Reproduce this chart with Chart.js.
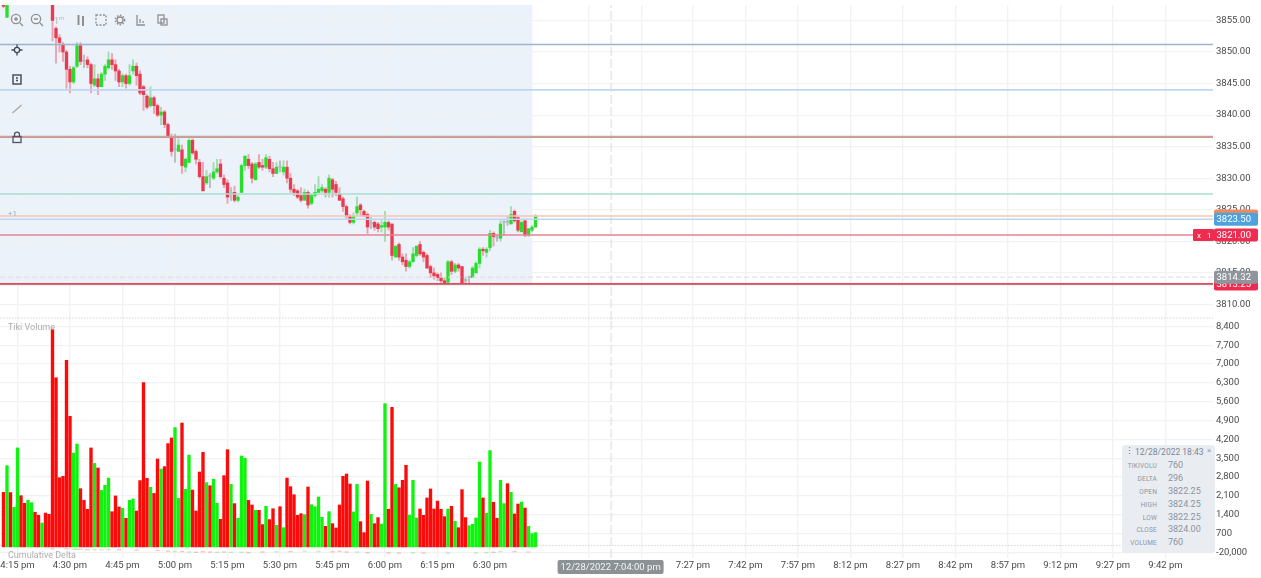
<!DOCTYPE html>
<html><head><meta charset="utf-8">
<style>
html,body{margin:0;padding:0;background:#fff;width:1261px;height:578px;overflow:hidden;font-family:Roboto,sans-serif}
#stage{position:relative;width:1261px;height:578px;filter:blur(.45px)}
#stage canvas{position:absolute;left:0}
#wrapTop{position:absolute;left:0;top:0;width:1261px;height:322px}
#wrapBot{position:absolute;left:0;top:320px;width:1261px;height:258px}
.t{position:absolute;white-space:nowrap}
svg.ic{position:absolute;overflow:visible}
#panel{position:absolute;left:1122px;top:445px;width:93px;height:108px;background:#e9edf2;border-radius:3px;color:#7d8796}
.rl{position:absolute;right:58px;font-size:6.5px;letter-spacing:.2px;color:#8d95a3;white-space:nowrap}
.rv{position:absolute;left:46px;font-size:9px;color:#8a93a3;white-space:nowrap}
#cream{position:absolute;left:0;top:576.5px;width:1261px;height:2px;background:#faf9ee}
</style></head><body>
<div id="stage">
<div id="wrapTop"><canvas id="priceChart"></canvas></div>
<div id="wrapBot"><canvas id="volChart"></canvas></div>

<svg class="ic" style="left:0;top:0" width="180" height="150" fill="none" stroke="#8f8f8f" stroke-width="1.3">
 <circle cx="16" cy="19" r="4.6"/><path d="M20 23l3 3M14 19h4M16 17v4"/>
 <circle cx="36" cy="19" r="4.6"/><path d="M40 23l3 3M34 19h4"/>
 <path d="M78.500 15v10M83 16v10" stroke-width="2"/>
 <rect x="96" y="15" width="10" height="10" stroke-dasharray="2 1.500"/>
 <circle cx="120" cy="20" r="3"/><circle cx="120" cy="20" r="4.600" stroke-dasharray="1.500 1.500" stroke-width="1.600"/>
 <path d="M137 15v10h8M140 23v-4M143 23v-2"/>
 <rect x="158" y="15" width="6" height="8"/><rect x="161" y="19" width="6" height="6"/>
 <g stroke="#3f4756"><circle cx="17" cy="50" r="2.600"/><path d="M17 44.500v2.500M17 53v2.500M11.500 50h2.500M20 50h2.500"/></g>
 <rect x="13" y="75" width="8" height="9" stroke="#4a5260" stroke-width="1.500"/><path d="M16 78h2M16 80.500h2" stroke="#4a5260"/>
 <path d="M12.500 113l9-8" stroke="#a8a8a8"/>
 <rect x="13" y="136.500" width="8" height="6" stroke="#4e5562" stroke-width="1.300"/><path d="M14.500 136.500v-1.800a2.500 2.500 0 015 0v1.800" stroke="#4e5562"/>
</svg>
<div class="t" style="left:54px;top:14px;font-size:9px;color:#b5b5b5">1<sup style="font-size:6px">m</sup></div>
<div class="t" style="left:8px;top:209px;font-size:8px;color:#9db0c0">+1</div>
<div class="t" style="left:8px;top:322px;font-size:9px;color:#aeaeae">Tiki Volume</div>
<div class="t" style="left:8px;top:550px;font-size:9px;color:#aeaeae">Cumulative Delta</div>

<div id="panel">
 <div class="t" style="left:3px;top:1px;font-size:9px;color:#6c7686">⋮</div>
 <div class="t" style="left:13px;top:2px;font-size:8.5px;color:#7d8796">12/28/2022 18:43</div>
 <div class="t" style="left:85px;top:1px;font-size:8px;color:#98a0ad">×</div>
 <div class="rl" style="top:17px">TIKIVOLU</div><div class="rv" style="top:15px">760</div>
 <div class="rl" style="top:30px">DELTA</div><div class="rv" style="top:28px">296</div>
 <div class="rl" style="top:43px">OPEN</div><div class="rv" style="top:41px">3822.25</div>
 <div class="rl" style="top:56px">HIGH</div><div class="rv" style="top:54px">3824.25</div>
 <div class="rl" style="top:69px">LOW</div><div class="rv" style="top:67px">3822.25</div>
 <div class="rl" style="top:81px">CLOSE</div><div class="rv" style="top:79px">3824.00</div>
 <div class="rl" style="top:94px">VOLUME</div><div class="rv" style="top:92px">760</div>
</div>
<div id="cream"></div>
</div>
<script src="https://cdn.jsdelivr.net/npm/chart.js@4"></script>
<script>
// ---------- data ----------
const firstBarMinute = -4; // 4:11 pm, minutes after 4:15 pm
const opens = [3857.5,3855.5,null,null,null,null,null,null,null,null,null,null,null,null,3858.5,3853.75,3852.25,3851.25,3850,3847.25,3845.25,3847.75,3851,3848.5,3848.75,3848,3844.75,3845.75,3844.5,3846.5,3847.5,3848.75,3848,3847,3845.25,3846.25,3845,3847,3847.75,3846.5,3844.5,3843,3841.5,3842.75,3841.5,3840,3840.5,3838.5,3836.5,3834.5,3834.25,3834.5,3831.75,3832.5,3836,3834.25,3832.5,3830.25,3829.25,3830.25,3830,3831,3832.25,3830,3829.25,3827.5,3827.75,3826.5,3827.75,3832,3833,3832.25,3829.75,3832.5,3832,3831.75,3833,3831.5,3830.75,3831.75,3831,3831.75,3830,3828.25,3828,3827.25,3826.5,3827.75,3826,3827.25,3827.75,3828,3828.25,3827.75,3829.75,3829,3827.5,3826.75,3825.5,3824,3823,3824.5,3825.75,3824.75,3824.25,3822.75,3823,3822.75,3822.25,3822.25,3823,3822.75,3817.5,3819.5,3817.5,3817,3816,3816.75,3817.75,3819.5,3818.25,3817.75,3816,3815,3814.75,3814.25,3813.75,3813.5,3816.75,3815.25,3816.25,3816,3813.75,3814.25,3814.25,3815,3816.5,3818.75,3818.25,3819,3821.25,3820.5,3820.5,3823,3823,3822.75,3824.75,3823.75,3821.5,3823.25,3821,3821.75,3822.25];
const highs = [3857.75,3858,null,null,null,null,null,null,null,null,null,null,null,null,3859,3854,3852.75,3851.5,3850.25,3847.75,3847.75,3851.5,3851.5,3849.5,3849.25,3848.25,3848,3846.5,3846.75,3848,3850,3849.75,3848.75,3847.25,3846.5,3846.5,3848,3848.75,3848.25,3847,3844.75,3843.25,3844.5,3843,3841.75,3841.25,3840.75,3838.75,3837,3837,3836.25,3835.25,3833.25,3836.25,3836.25,3834.5,3833,3832.5,3831.25,3830.75,3832.5,3833,3833,3830.5,3829.75,3828.5,3828.75,3827.25,3832.25,3833.5,3833.75,3832.5,3832.5,3833.75,3833,3833.75,3833.5,3832.5,3832.5,3832.75,3832.75,3832.75,3830.75,3829,3828.25,3828.5,3828.25,3828,3827.5,3829,3830.25,3829,3828.5,3830.5,3830,3829.5,3828.5,3827,3825.75,3824.25,3824.5,3827,3826,3825,3824.5,3823.75,3823.25,3823,3823.25,3824.75,3823.25,3822.75,3819.25,3819.75,3818,3818,3817,3819,3819.25,3820,3818.5,3818,3816.25,3815.75,3815,3815,3814.25,3817,3817,3816.5,3816.5,3816,3814.25,3814.5,3816,3816.75,3819,3819,3819,3821.75,3821.5,3821,3823.25,3823.25,3824,3825.5,3825,3824,3823.25,3823.5,3822,3822.5,3824.25];
const lows = [3857,3855.5,null,null,null,null,null,null,null,null,null,null,null,null,3851.75,3848.25,3850,3848.5,3844.25,3843.5,3845,3847.5,3848,3847.5,3847.5,3843.5,3844.5,3843.25,3844.5,3845.5,3847.25,3847.25,3845.5,3844.5,3844.5,3844.25,3844.75,3846.5,3844.75,3843.25,3840.75,3841,3841.25,3840.25,3839.75,3838.5,3838,3836.5,3833.5,3832.5,3834.25,3830.75,3831,3832.5,3833.75,3832.25,3830,3828,3829,3828.5,3829.75,3830.75,3830,3828.5,3826,3826.5,3826.25,3826.25,3827.75,3831.25,3831.5,3829.25,3829.75,3831.5,3831.25,3831.5,3831,3830.25,3830.75,3831,3830.5,3829.25,3827.75,3827.25,3826.75,3826.25,3826.5,3825.25,3825.75,3827,3827.75,3827.75,3827,3827,3827,3827.25,3826.5,3824.75,3823.5,3822.75,3822.75,3824,3824,3824,3821.25,3822,3821.75,3821.5,3821.5,3820,3821.75,3817,3817.5,3817,3816.25,3815.25,3815.75,3816.75,3817.5,3817.75,3816.75,3815.75,3814.25,3814,3813.75,3813.5,3813.25,3813.25,3814.75,3815,3815.25,3813.25,3813.25,3813.25,3814.25,3815,3815.75,3817.75,3817.5,3818.5,3819.25,3820,3820,3821,3822.5,3822.75,3823,3821.5,3821.5,3820.75,3820.75,3821.5,3822.25];
const closes = [3857.25,3858,null,null,null,null,null,null,null,null,null,null,null,null,3855,3852.25,3851.5,3850,3847.25,3845.25,3847.5,3851,3848.5,3848.5,3848,3845,3845.75,3844.5,3846.5,3847.75,3848.75,3848,3847,3845.25,3846.25,3845,3846.25,3847.75,3846.25,3843.5,3843.25,3841.25,3842.75,3841.5,3840,3840.5,3838.5,3836.75,3834.25,3834.5,3835.25,3832,3833,3836,3834,3833,3830.25,3828,3830.25,3830.25,3831,3831.5,3830.25,3829,3827,3827.5,3826.5,3827,3832,3833.5,3832,3830,3832.25,3831.75,3831.75,3833.25,3831.5,3830.75,3831.75,3831.75,3831.75,3830,3828.25,3827.75,3827,3826.5,3827.75,3825.75,3827.25,3827.75,3828.25,3828.5,3827.75,3830,3828.25,3827.75,3826.5,3825.5,3824,3823,3824,3825.5,3825,3824,3822.25,3822.75,3822.25,3822,3822.5,3823,3822.25,3817.75,3819.25,3817.5,3816.75,3816,3816.75,3818,3819.25,3818,3817.5,3815.75,3815,3814.5,3814.25,3813.75,3813.25,3816.75,3815.25,3816.25,3815.75,3813.25,3813.75,3814.25,3815.75,3816.5,3818.75,3818.5,3818.75,3821.25,3820.75,3820.5,3822.75,3823,3823,3824.25,3823.25,3821.75,3823,3821,3822,3822.25,3824];
const volumes = [2230,3220,2220,1670,3880,2105,1820,1930,1845,1490,1375,1090,1460,1410,8300,6490,2775,2825,7135,5055,3690,4025,2365,1930,1600,3880,3305,3135,2305,2490,2760,1510,2095,1685,1635,1265,1930,1980,1535,2665,6305,2750,2415,2190,3470,3095,3185,4040,4250,4635,2005,4805,2340,3615,2315,1535,2985,3715,2590,2475,2715,1820,1225,2850,3815,2525,1810,1265,3580,3495,1930,1760,1560,1560,1030,1710,1215,1620,1005,1695,915,2760,2440,2140,1375,1435,1400,2430,1770,1695,2055,1300,965,1510,1065,905,1760,2825,2910,2540,1500,2525,1140,730,2650,1410,1065,1290,1050,5525,1600,5390,2525,2400,2675,3235,1385,2675,1275,1610,1375,2020,2355,1610,1905,1600,1325,1610,1710,1150,915,2330,1290,990,1040,1275,3355,2020,1450,3780,1860,1265,2675,1810,2550,2230,1425,1795,1870,1645,965,695,730];
const volumeSides = ["rgrggrrggr","rgrrrrrrrr","ggrrrrgrgg","grrrgrggrr","rrgrrgrrrg","grggrrrrgr","ggrrrgrggg","rrgrrgrrgr","grrrrrgrgg","ggrgrrrrrr","ggrrrgrrgg","rrgrrrgggr","rrrrrrrgrg","rrrggggrgg","rrggrgrrgr","ggg"];
const deltaBars = [14,18,20,21,22,24,26,28,30,33,38,44,47,49,51,53,55,57,59,61,63,65,68,70,74,78,82,86,90,94,96,98,101,104,110,113,117,120,127,135,138,140,142,146,150];
const deltaMarks = [130,130,110,110,120,100,100,90,100,90,80,70,40,30,30,10,0,20,10,0,10,0,0,-10,10,20,30,40,30,20,40,10,10,-10,-20,-30,-20,-30,-30,-30,-10,0,30,30,10];
const deltaTickLabel = "-20,000";
const priceTicks = [3855,3850,3845,3840,3835,3830,3825,3820,3815,3810];
const volumeTicks = [0,700,1400,2100,2800,3500,4200,4900,5600,6300,7000,7700,8400];
const timeTicks = [0,15,30,45,60,75,90,105,120,135,163.3,178.3,193,208,223,238,253,268,283,298,313,328];
const timeLabels = ["4:15 pm","4:30 pm","4:45 pm","5:00 pm","5:15 pm","5:30 pm","5:45 pm","6:00 pm","6:15 pm","6:30 pm","","","7:27 pm","7:42 pm","7:57 pm","8:12 pm","8:27 pm","8:42 pm","8:57 pm","9:12 pm","9:27 pm","9:42 pm"];
const levelValues = [3813.25,3813.12,3814.32,3821,3823.5,3824,3827.5,3836.47,3836.62,3844,3851.2];
const levelColors = ["#e6485f","#93d8c8","#dcdcdc","#ea8092","#bcd8f1","#f9c4b4","#a9dfd1","#e68c8c","#9dbba6","#bcd6f3","#9db4cf"];
const levelWidths = [1.6,1.2,1,1.4,1.6,1.4,1.4,1.4,1.4,1.6,1.6];
const priceTags = [{v:3824,t:"",c:"#f08a5d"},{v:3823.5,t:"3823.50",c:"#4ea3dc"},{v:3821,t:"3821.00",c:"#ef2b50"},{v:3813.25,t:"3813.25",c:"#ef2b50"},{v:3814.32,t:"3814.32",c:"#8f959b"}];
const crossMinute = 169.6, shadeEndMinute = 147.1, shadeFloor = 3813.25;
const crossLabel = "12/28/2022 7:04:00 pm";
const xMin = -5, xMax = 341.57;
const priceMin = 3807.53, priceMax = 3857.45, priceFloorLine = 3807.85;
const volMin = -212, volMax = 8636, volBase = 200, volDottedLine = 255;

// ---------- helpers ----------
const RED="#e93a4f", GREEN="#27df2b", GREY="#b5b8b8";
const sides = volumeSides.join("");
const minuteOf = i => firstBarMinute + i;
const candleColor = i => closes[i]>opens[i]?GREEN:closes[i]<opens[i]?RED:GREY;
const wickColor = i => closes[i]>opens[i]?"rgba(90,200,110,.5)":closes[i]<opens[i]?"rgba(232,70,90,.45)":"rgba(150,155,155,.6)";
const gridColor = "#f1f2f3";
const font = {family:"Roboto",size:9.5};

function rr(ctx,x,y,w,h,r,fill){ctx.beginPath();ctx.roundRect(x,y,w,h,r);ctx.fillStyle=fill;ctx.fill();}

const shadePlugin={id:"shade",beforeDraw(c){
  const {ctx,chartArea:a,scales:{x,y}}=c;
  ctx.save();ctx.fillStyle="#ebf2f9";
  ctx.fillRect(a.left,a.top,x.getPixelForValue(shadeEndMinute)-a.left,y.getPixelForValue(shadeFloor)-a.top);
  ctx.restore();
}};
const tagPlugin={id:"tags",afterDraw(c){
  const {ctx,scales:{y}}=c;
  ctx.save();ctx.font="9.5px Roboto";ctx.textBaseline="middle";
  priceTags.forEach(t=>{
    const py=y.getPixelForValue(t.v);
    rr(ctx,1214,py-6.5,44,13,2,t.c);
    if(t.t){ctx.fillStyle="#fff";ctx.textAlign="left";ctx.fillText(t.t,1216.5,py+.5);}
  });
  const py=y.getPixelForValue(3821);
  rr(ctx,1193,py-6,21,12,1,"#ef2b50");
  ctx.fillStyle="#fff";ctx.font="8px Roboto";ctx.fillText("x",1197,py+.5);ctx.fillText("1",1207,py+.5);
  ctx.restore();
}};
const pillPlugin={id:"pill",afterDraw(c){
  const {ctx,scales:{x}}=c;
  const cx=x.getPixelForValue(crossMinute)-0.5, top=c.chartArea.bottom+2;
  ctx.save();rr(ctx,cx-53,top,106,14,2,"#8c9196");
  ctx.fillStyle="#f4f5f6";ctx.font="9.5px Roboto";ctx.textAlign="center";ctx.textBaseline="middle";
  ctx.fillText(crossLabel,cx,top+7.5);ctx.restore();
}};

const commonX={type:"linear",min:xMin,max:xMax,offset:false,
  afterBuildTicks(s){s.ticks=timeTicks.map(v=>({value:v}));},
  grid:{offset:false,color:gridColor,lineWidth:1.4,drawTicks:false},border:{display:false}};
const fixW=s=>{s.width=48;s.paddingTop=0;s.paddingBottom=0;};
const fixH=h=>s=>{s.height=h;s.paddingLeft=0;s.paddingRight=0;};

const pts=[...opens.keys()];
const levelSets=levelValues.map((v,k)=>({type:"line",data:[{x:xMin,y:v},{x:xMax,y:v}],borderColor:levelColors[k],borderWidth:levelWidths[k],borderDash:k===2?[5,3]:[],pointRadius:0,order:1}));

Chart.defaults.animation=false;
Chart.defaults.responsive=true;
Chart.defaults.maintainAspectRatio=false;
Chart.defaults.plugins.legend.display=false;
Chart.defaults.plugins.tooltip.enabled=false;

new Chart(document.getElementById("priceChart"),{
  type:"bar",
  data:{datasets:[
    ...levelSets,
    {type:"line",data:[{x:crossMinute,y:priceMin},{x:crossMinute,y:priceMax}],borderColor:"#dadada",borderWidth:1,borderDash:[9,3],pointRadius:0,order:3},
    {type:"line",data:[{x:xMin,y:priceFloorLine},{x:xMax,y:priceFloorLine}],borderColor:"#d5d5d5",borderWidth:1,borderDash:[1.5,1.5],pointRadius:0,order:3},
    {label:"wick",data:pts.map(i=>({x:minuteOf(i),y:opens[i]===null?null:[lows[i],highs[i]]})),backgroundColor:pts.map(wickColor),barThickness:1.3,grouped:false,order:5},
    {label:"body",data:pts.map(i=>({x:minuteOf(i),y:opens[i]===null?null:[Math.min(opens[i],closes[i]),Math.max(opens[i],closes[i])]})),backgroundColor:pts.map(candleColor),barThickness:2.7,minBarLength:1.2,grouped:false,order:4}
  ]},
  options:{
    layout:{padding:{top:5,bottom:2},autoPadding:false},
    scales:{
      x:{...commonX,afterFit:fixH(0),ticks:{display:false}},
      y:{position:"right",min:priceMin,max:priceMax,afterFit:fixW,
        afterBuildTicks(s){s.ticks=priceTicks.map(v=>({value:v}));},
        grid:{color:gridColor,lineWidth:1.2,drawTicks:false},border:{display:false},
        ticks:{padding:3,color:"#4a4a4a",font,callback:v=>Number(v).toFixed(2)}}
    }
  },
  plugins:[shadePlugin,tagPlugin]
});

new Chart(document.getElementById("volChart"),{
  type:"bar",
  data:{datasets:[
    {type:"line",data:[{x:crossMinute,y:volMin},{x:crossMinute,y:volMax}],borderColor:"#dadada",borderWidth:1,borderDash:[9,3],pointRadius:0,order:3},
    {type:"line",data:[{x:xMin,y:volDottedLine},{x:xMax,y:volDottedLine}],borderColor:"#d5d5d5",borderWidth:1,borderDash:[1.5,1.5],pointRadius:0,order:3},
    {label:"Tiki Volume",data:volumes.map((v,i)=>({x:minuteOf(i),y:v})),base:volBase,backgroundColor:volumes.map((v,i)=>sides[i]==="g"?"#0ef40e":"#fb0a0a"),barThickness:2.7,grouped:false,order:2},
    {label:"Cumulative Delta",data:deltaMarks.map((v,k)=>({x:minuteOf(deltaBars[k]),y:[v-14,v+14]})),backgroundColor:deltaBars.map(i=>sides[i]==="g"?"rgba(60,210,70,.3)":"rgba(235,70,80,.3)"),barThickness:3.5,grouped:false,order:2}
  ]},
  options:{
    layout:{padding:0,autoPadding:false},
    scales:{
      x:{...commonX,afterFit:fixH(20),
        ticks:{padding:2,color:"#4a4a4a",font,maxRotation:0,autoSkip:false,
          callback:(v)=>{const k=timeTicks.indexOf(v);return k<0?"":timeLabels[k];}}},
      y:{position:"right",min:volMin,max:volMax,afterFit:fixW,
        afterBuildTicks(s){s.ticks=volumeTicks.map(v=>({value:v}));},
        grid:{color:gridColor,lineWidth:1.2,drawTicks:false},border:{display:false},
        ticks:{padding:3,color:"#4a4a4a",font,callback:v=>v===0?deltaTickLabel:Number(v).toLocaleString("en-US")}}
    }
  },
  plugins:[pillPlugin]
});
</script>
</body></html>
